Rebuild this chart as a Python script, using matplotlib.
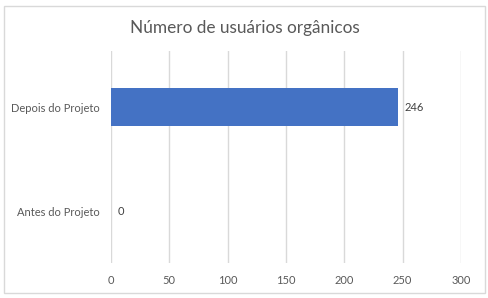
import matplotlib
matplotlib.use("Agg")
import matplotlib.pyplot as plt
from matplotlib.patches import Rectangle

categories = ["Antes do Projeto", "Depois do Projeto"]
values = [0, 246]
xticks = [0, 50, 100, 150, 200, 250, 300]
title = "Número de usuários orgânicos"

plt.rcParams['font.family'] = ['Lato', 'DejaVu Sans']
W, H = 489, 298
fig = plt.figure(figsize=(W/100, H/100), dpi=100)
fig.patches.append(Rectangle((4/W, 5/H), 481/W, 287/H, transform=fig.transFigure,
                             fill=False, edgecolor="#d9d9d9", linewidth=1))
ax = fig.add_axes([111/W, 35/H, 350/W, 212/H])
ypos = list(range(len(categories)))
ax.barh(ypos, values, height=0.356, color="#4472c4")
ax.set_xlim(0, 300)
ax.set_ylim(-0.5, 1.5385)
ax.set_xticks(xticks)
ax.set_xticklabels([str(t) for t in xticks])
ax.set_yticks(ypos)
ax.set_yticklabels(categories)
ax.grid(axis='x', color="#d9d9d9", linewidth=1)
ax.set_axisbelow(True)
for s in ax.spines.values():
    s.set_visible(False)
ax.tick_params(axis='both', length=0, labelsize=8, labelcolor="#595959")
ax.tick_params(axis='x', pad=9)
ax.tick_params(axis='y', pad=8)
for y, v in zip(ypos, values):
    ax.text(v + 6, y, str(v), va='center', ha='left', fontsize=8, color="#404040")
fig.text(0.5, 1 - 28/H, title, ha='center', va='center', fontsize=12.4, color="#595959")
fig.savefig("out.png", dpi=100)
